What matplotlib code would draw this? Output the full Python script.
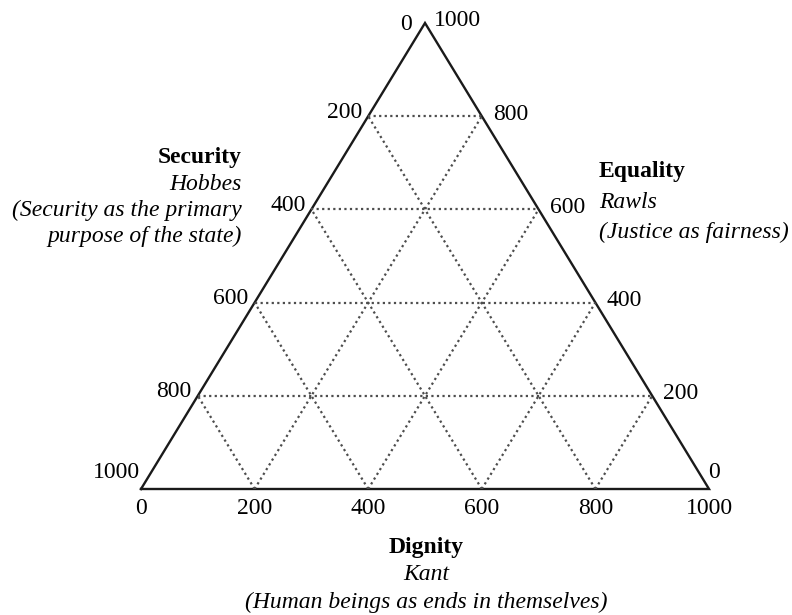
import numpy as np
import matplotlib
matplotlib.use("Agg")
import matplotlib.pyplot as plt

plt.rcParams['font.family'] = ['Liberation Serif', 'DejaVu Serif']

ticks = [0, 200, 400, 600, 800, 1000]
grid_vals = [200, 400, 600, 800]
security_labels = ["0", "200", "400", "600", "800", "1000"]   # left side, top -> bottom
equality_labels = ["0", "200", "400", "600", "800", "1000"]   # right side, bottom -> top
dignity_labels = ["0", "200", "400", "600", "800", "1000"]    # bottom, left -> right

W, H = 792, 615
fig = plt.figure(figsize=(W / 100, H / 100), dpi=100)
# triangle corners sit at about (141,489), (709,489), (425,23) in pixels
ax = fig.add_axes([141 / W, 1 - 489 / H, 568 / W, 466 / H])
ax.set_xlim(0, 1000)
ax.set_ylim(0, 1000)
ax.axis('off')


def xy(d, e):
    # dignity d along bottom, equality e up to apex
    return d + e / 2.0, e


edge_col = '#1a1a1a'
grid_col = '#4d4d4d'
dots = (0, (1, 1.5))

# outline
corners = [xy(0, 0), xy(1000, 0), xy(0, 1000), xy(0, 0)]
ax.plot([c[0] for c in corners], [c[1] for c in corners], color=edge_col, lw=1.7,
        clip_on=False, solid_joinstyle='miter')

for v in grid_vals:
    # constant equality
    a, b = xy(0, v), xy(1000 - v, v)
    ax.plot([a[0], b[0]], [a[1], b[1]], color=grid_col, lw=1.6, ls=dots)
    # constant dignity
    a, b = xy(v, 0), xy(v, 1000 - v)
    ax.plot([a[0], b[0]], [a[1], b[1]], color=grid_col, lw=1.6, ls=dots)
    # constant security (s = 1000 - v)
    a, b = xy(v, 0), xy(0, v)
    ax.plot([a[0], b[0]], [a[1], b[1]], color=grid_col, lw=1.6, ls=dots)

fs = 17
# left side: security, 0 at top, 1000 at bottom-left
for t, lab in zip(ticks, security_labels):
    e = 1000 - t
    if t == 0:
        off = (-13, -2)
    elif t == 1000:
        off = (-1, 16)
    else:
        off = (-6, 4)
    ax.annotate(lab, xy(0, e), xytext=off, textcoords='offset pixels',
                ha='right', va='center', fontsize=fs, annotation_clip=False)

# right side: equality, 0 at bottom-right, 1000 at top
for t, lab in zip(ticks, equality_labels):
    if t == 0:
        off = (-1, 17)
    elif t == 1000:
        off = (9, 3)
    else:
        off = (11, 2)
    ax.annotate(lab, xy(1000 - t, t), xytext=off, textcoords='offset pixels',
                ha='left', va='center', fontsize=fs, annotation_clip=False)

# bottom: dignity
for t, lab in zip(ticks, dignity_labels):
    ax.annotate(lab, xy(t, 0), xytext=(0, -19), textcoords='offset pixels',
                ha='center', va='center', fontsize=fs, annotation_clip=False)


def px(x, y):
    return x / W, 1 - y / H


tfs = 17
fig.text(*px(242, 158), "Security", ha='right', va='center', fontsize=tfs, fontweight='bold')
fig.text(*px(242, 184), "Hobbes", ha='right', va='center', fontsize=tfs, style='italic')
fig.text(*px(242, 210), "(Security as the primary", ha='right', va='center', fontsize=tfs, style='italic')
fig.text(*px(242, 236), "purpose of the state)", ha='right', va='center', fontsize=tfs, style='italic')

fig.text(*px(599, 172), "Equality", ha='left', va='center', fontsize=tfs, fontweight='bold')
fig.text(*px(599, 203), "Rawls", ha='left', va='center', fontsize=tfs, style='italic')
fig.text(*px(599, 232), "(Justice as fairness)", ha='left', va='center', fontsize=tfs, style='italic')

fig.text(*px(426, 547), "Dignity", ha='center', va='center', fontsize=tfs, fontweight='bold')
fig.text(*px(426, 575), "Kant", ha='center', va='center', fontsize=tfs, style='italic')
fig.text(*px(426, 602), "(Human beings as ends in themselves)", ha='center', va='center', fontsize=tfs, style='italic')

fig.savefig("out.png", dpi=100)
